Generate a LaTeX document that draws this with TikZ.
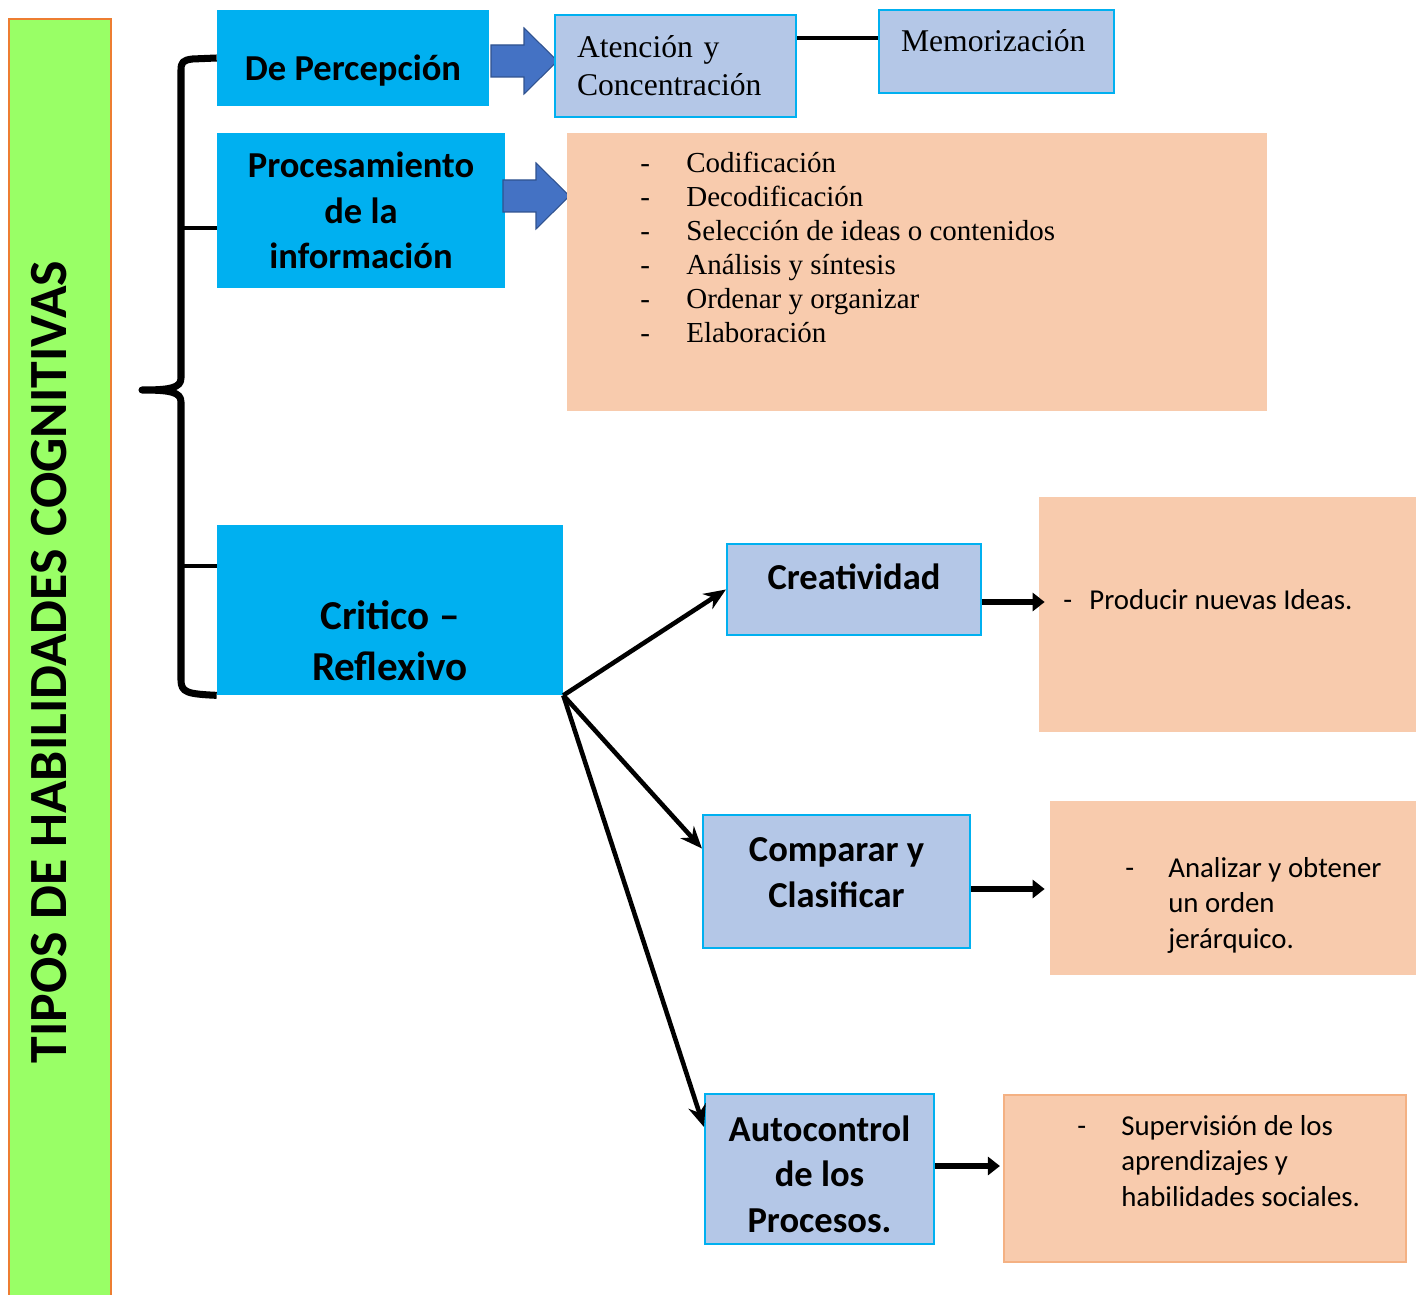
\documentclass[tikz,border=0pt]{standalone}
\usepackage{fontspec}
\setmainfont{Liberation Serif}
\newfontfamily\calib{Carlito}
\usetikzlibrary{arrows.meta}
\definecolor{cielo}{HTML}{00B0F0}
\definecolor{lila}{HTML}{B4C7E7}
\definecolor{durazno}{HTML}{F8CBAD}
\definecolor{duraznoborde}{HTML}{F4B183}
\definecolor{verde}{HTML}{99FF66}
\definecolor{naranja}{HTML}{ED7D31}
\definecolor{azul}{HTML}{4472C4}
\definecolor{azuloscuro}{HTML}{2F528F}
\tikzset{>={Stealth[length=0.44cm, width=0.36cm]}}
\tikzset{
  tipo/.style={fill=cielo, inner sep=0pt, align=center, font=\calib\bfseries\fontsize{20.8}{25.8}\selectfont},
  sub/.style={fill=lila, draw=cielo, line width=1.2pt, inner xsep=0.44cm, inner ysep=0pt, align=left, font=\fontsize{18}{21.5}\selectfont},
  rama/.style={fill=lila, draw=cielo, line width=1.2pt, inner sep=0pt, align=center, font=\calib\bfseries\fontsize{20.8}{25.8}\selectfont},
  nota/.style={fill=durazno, inner sep=0pt},
  notatxt/.style={anchor=base west, inner sep=0pt, font=\calib\fontsize{16.4}{20.2}\selectfont},
  flecha/.style={->, line width=2.6pt},
  gruesa/.style={-{Triangle[length=0.24cm, width=0.36cm]}, line width=3.4pt},
  llave/.style={line width=4pt, line join=round},
  pics/bloque/.style={code={
    \draw[fill=azul, draw=azuloscuro, line width=0.6pt, line join=miter]
      (0,0.32) -- (0.66,0.32) -- (0.66,0.66) -- (1.33,0) -- (0.66,-0.66) -- (0.66,-0.32) -- (0,-0.32) -- cycle;
  }}
}

\begin{document}
\begin{tikzpicture}
      \useasboundingbox (0,0) rectangle (28.32,-25.9);
      \draw[fill=verde, draw=naranja, line width=1.2pt] (0.18,-0.38) rectangle (2.22,-26.5);
      \node[rotate=90, font=\calib\bfseries\fontsize{30.6}{36}\selectfont] (titulo) at (0.98,-13.24) {TIPOS DE HABILIDADES COGNITIVAS};

      \node[tipo, minimum width=5.44cm, minimum height=1.92cm, text height=0.92cm, text depth=0cm] (perc) at (7.06,-1.16) {De Percepción};
      \node[tipo, minimum width=5.76cm, minimum height=3.1cm] (proc) at (7.22,-4.21) {Procesamiento\\de la\\información};
      \node[tipo, minimum width=6.92cm, minimum height=3.4cm] (crit) at (7.8,-12.2) {};
      \node[font=\calib\bfseries\fontsize{23.4}{28.9}\selectfont, align=center, inner sep=0pt] (crittxt) at (7.8,-12.82) {Critico –\\Reflexivo};

      \draw[llave] (perc.west) -- (3.85,-1.18) .. controls (3.66,-1.2) and (3.62,-1.25) .. (3.62,-1.4)
        -- (3.62,-7.56) .. controls (3.62,-7.76) and (3.4,-7.8) .. (2.84,-7.8)
        .. controls (3.4,-7.8) and (3.62,-7.84) .. (3.62,-8.04)
        -- (3.62,-13.6) .. controls (3.62,-13.85) and (3.75,-13.88) .. (crit.south west);
      \draw[line width=2.3pt] (3.62,-4.56) -- (proc.west |- 0,-4.56);
      \draw[line width=2.3pt] (3.62,-11.32) -- (crit.west |- 0,-11.32);

      \pic at (9.82,-1.22) {bloque};
      \pic at (10.06,-3.92) {bloque};

      \node[sub, minimum width=4.82cm, minimum height=2.04cm, text width=3.94cm] (aten) at (13.51,-1.32) {Atención y\\Concentración};
      \node[sub, minimum width=4.7cm, minimum height=1.66cm, text width=3.82cm, text height=0.4cm, text depth=0.4cm] (memo) at (19.93,-1.03) {Memorización};
      \draw[line width=2.3pt] ([yshift=0.56cm]aten.east) -- ([yshift=0.56cm]aten.east -| memo.west);

      \node[nota, minimum width=14cm, minimum height=5.56cm] (lista) at (18.34,-5.44) {};
      \node[anchor=base west, inner sep=0pt, font=\fontsize{16.5}{19.3}\selectfont] (listatxt) at (12.8,-3.46)
        {\begin{tabular}[t]{@{}p{0.92cm}@{}l@{}}
          -&Codificación\\
          -&Decodificación\\
          -&Selección de ideas o contenidos\\
          -&Análisis y síntesis\\
          -&Ordenar y organizar\\
          -&Elaboración
        \end{tabular}};

      \node[rama, minimum width=5.08cm, minimum height=1.82cm, text height=0.5cm, text depth=0.5cm] (crea) at (17.08,-11.79) {Creatividad};
      \node[rama, minimum width=5.34cm, minimum height=2.66cm, text height=1.5cm, text depth=0.48cm] (comp) at (16.73,-17.63) {Comparar y\\Clasificar};
      \node[rama, minimum width=4.58cm, minimum height=3.0cm, text height=2.7cm, text depth=0.18cm] (auto) at (16.39,-23.38) {Autocontrol\\de los\\Procesos.};

      \draw[flecha] (crit.south east) -- (crea.west);
      \draw[flecha] (crit.south east) -- ([yshift=0.66cm]comp.west);
      \draw[flecha] (crit.south east) -- ([yshift=0.84cm]auto.west);

      \node[nota, minimum width=7.58cm, minimum height=4.7cm] (prod) at (24.57,-12.29) {};
      \node[notatxt] (prodtxt) at (21.26,-12.18)
        {\begin{tabular}[t]{@{}p{0.52cm}@{}l@{}}-&Producir nuevas Ideas.\end{tabular}};
      \node[nota, minimum width=7.36cm, minimum height=3.48cm] (anal) at (24.68,-17.76) {};
      \node[notatxt] (analtxt) at (22.5,-17.54)
        {\begin{tabular}[t]{@{}p{0.86cm}@{}l@{}}-&Analizar y obtener\\&un orden\\&jerárquico.\end{tabular}};
      \node[nota, draw=duraznoborde, line width=1.2pt, minimum width=8.04cm, minimum height=3.34cm] (sup) at (24.1,-23.57) {};
      \node[notatxt] (suptxt) at (21.54,-22.7)
        {\begin{tabular}[t]{@{}p{0.88cm}@{}l@{}}-&Supervisión de los\\&aprendizajes y\\&habilidades sociales.\end{tabular}};

      \draw[gruesa, shorten >=-0.12cm] ([yshift=-0.25cm]crea.east) -- ([yshift=-0.25cm]crea.east -| prod.west);
      \draw[gruesa, shorten >=0.1cm] ([yshift=-0.15cm]comp.east) -- ([yshift=-0.15cm]comp.east -| anal.west);
      \draw[gruesa, shorten >=0.06cm] ([yshift=0.06cm]auto.east) -- ([yshift=0.06cm]auto.east -| sup.west);
    \end{tikzpicture}
\end{document}
